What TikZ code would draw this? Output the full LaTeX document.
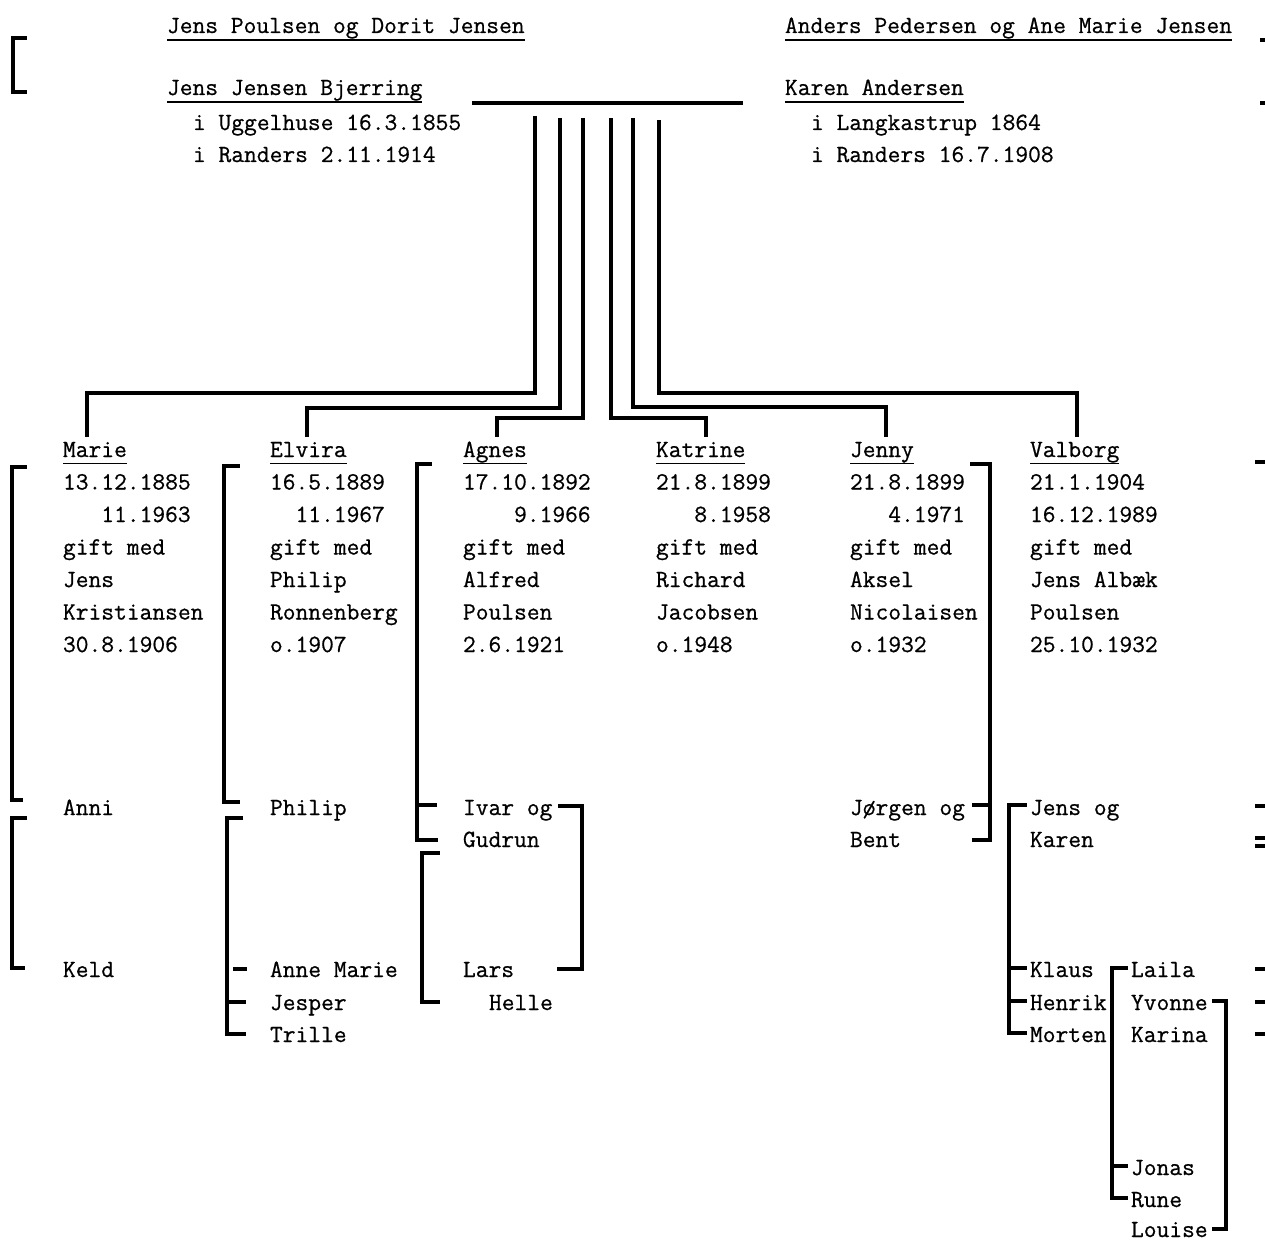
\documentclass[tikz,border=0pt]{standalone}
\usepackage{fontspec}
\newfontfamily\twfont{Latin Modern Mono}[FakeBold=0.7]
\begin{document}
\begin{tikzpicture}[x=1pt,y=-1pt,
  txt/.style={anchor=base west,inner sep=0pt,outer sep=0pt,font=\twfont\fontsize{24.8}{30}\selectfont},
  br/.style={line width=3.2pt,line join=miter,line cap=butt},
  ul/.style={line width=1.6pt}]
\useasboundingbox (0,0) rectangle (1265,1241);

% ---------- top: parents ----------
\node[txt] (pp) at (167,33) {Jens Poulsen og Dorit Jensen};
\node[txt] (jjb) at (167,95) {Jens Jensen Bjerring};
\node[txt] (jjb1) at (193,130) {i Uggelhuse 16.3.1855};
\node[txt] (jjb2) at (193,162) {i Randers 2.11.1914};
\node[txt] (ap) at (785,33) {Anders Pedersen og Ane Marie Jensen};
\node[txt] (ka) at (785,95) {Karen Andersen};
\node[txt] (ka1) at (811,130) {i Langkastrup 1864};
\node[txt] (ka2) at (811,162) {i Randers 16.7.1908};
\foreach \n in {pp,jjb,ap,ka}
  \draw[ul] ([yshift=-7pt]\n.base west) -- ([yshift=-7pt]\n.base east);

\draw[br] (27,38) -- (13,38) -- (13,92) -- (27,92);
\draw[br] (1260,40) -- (1265,40);
\draw[br] (1260,103) -- (1265,103);

% marriage line
\coordinate (cl) at (472,103);
\coordinate (cr) at (743,103);
\draw[line width=3.2pt] (cl) -- (cr);

% ---------- children ----------
\node[txt] (marie) at (63,457) {Marie};
\node[txt] (elvira) at (270,457) {Elvira};
\node[txt] (agnes) at (463,457) {Agnes};
\node[txt] (katrine) at (656,457) {Katrine};
\node[txt] (jenny) at (850,457) {Jenny};
\node[txt] (valborg) at (1030,457) {Valborg};
\foreach \n in {marie,elvira,agnes,katrine,jenny,valborg}
  \draw[ul] ([yshift=-6.5pt]\n.base west) -- ([yshift=-6.5pt]\n.base east);

\foreach \t [count=\k] in {{13.12.1885},{\phantom{13.}11.1963},{gift med},{Jens},{Kristiansen},{30.8.1906}}
  \node[txt] (marie\k) at (63,{457+32.5*\k}) {\t};
\foreach \t [count=\k] in {{16.5.1889},{\phantom{16}11.1967},{gift med},{Philip},{Ronnenberg},{o.1907}}
  \node[txt] (elvira\k) at (270,{457+32.5*\k}) {\t};
\foreach \t [count=\k] in {{17.10.1892},{\phantom{17.1}9.1966},{gift med},{Alfred},{Poulsen},{2.6.1921}}
  \node[txt] (agnes\k) at (463,{457+32.5*\k}) {\t};
\foreach \t [count=\k] in {{21.8.1899},{\phantom{21.}8.1958},{gift med},{Richard},{Jacobsen},{o.1948}}
  \node[txt] (katrine\k) at (656,{457+32.5*\k}) {\t};
\foreach \t [count=\k] in {{21.8.1899},{\phantom{21.}4.1971},{gift med},{Aksel},{Nicolaisen},{o.1932}}
  \node[txt] (jenny\k) at (850,{457+32.5*\k}) {\t};
\foreach \t [count=\k] in {{21.1.1904},{16.12.1989},{gift med},{Jens Albæk},{Poulsen},{25.10.1932}}
  \node[txt] (valborg\k) at (1030,{457+32.5*\k}) {\t};

% connectors from the couple to the children
\draw[br] (535,116) |- (87,393) -- (87,437);
\draw[br] (560,118) |- (307,408) -- (307,437);
\draw[br] (583,118) |- (497,418) -- (497,437);
\draw[br] (611,118) |- (706,418) -- (706,437);
\draw[br] (633,118) |- (886,407) -- (886,437);
\draw[br] (659,120) |- (1077,393) -- (1077,437);

% ---------- grandchildren ----------
\node[txt] (anni) at (63,815) {Anni};
\node[txt] (keld) at (63,977) {Keld};
\node[txt] (philip) at (270,815) {Philip};
\node[txt] (annemarie) at (270,977) {Anne Marie};
\node[txt] (jesper) at (270,1010) {Jesper};
\node[txt] (trille) at (270,1042) {Trille};
\node[txt] (ivar) at (463,815) {Ivar og};
\node[txt] (gudrun) at (463,847) {Gudrun};
\node[txt] (lars) at (463,977) {Lars};
\node[txt] (helle) at (489,1010) {Helle};
\node[txt] (jorgen) at (850,815) {Jørgen og};
\node[txt] (bent) at (850,847) {Bent};
\node[txt] (jensog) at (1030,815) {Jens og};
\node[txt] (karen) at (1030,847) {Karen};
\node[txt] (klaus) at (1030,977) {Klaus};
\node[txt] (henrik) at (1030,1010) {Henrik};
\node[txt] (morten) at (1030,1042) {Morten};
\node[txt] (laila) at (1131,977) {Laila};
\node[txt] (yvonne) at (1131,1010) {Yvonne};
\node[txt] (karina) at (1131,1042) {Karina};
\node[txt] (jonas) at (1131,1175) {Jonas};
\node[txt] (rune) at (1131,1207) {Rune};
\node[txt] (louise) at (1131,1237) {Louise};

% Marie brackets
\draw[br] (27,467) -- (12,467) -- (12,800) -- (23,800);
\draw[br] (27,818) -- (12,818) -- (12,968) -- (25,968);
% Elvira brackets
\draw[br] (240,466) -- (224,466) -- (224,802) -- (240,802);
\draw[br] (243,818) -- (227,818) -- (227,1034) -- (246,1034);
\draw[br] (227,1002) -- (246,1002);
\draw[br] (233,969) -- (247,969);
% Agnes brackets
\draw[br] (432,464) -- (417,464) -- (417,840) -- (438,840);
\draw[br] (417,805) -- (437,805);
\draw[br] (440,853) -- (422,853) -- (422,1002) -- (440,1002);
\draw[br] (558,806) -- (582,806) -- (582,969) -- (557,969);
% Jenny bracket
\draw[br] (970,464) -- (990,464) -- (990,840) -- (972,840);
\draw[br] (972,805) -- (990,805);
% Valborg brackets
\draw[br] (1027,805) -- (1009,805) -- (1009,1033) -- (1027,1033);
\draw[br] (1009,968) -- (1027,968);
\draw[br] (1009,1001) -- (1027,1001);
\draw[br] (1128,968) -- (1112,968) -- (1112,1198) -- (1128,1198);
\draw[br] (1112,1166) -- (1128,1166);
\draw[br] (1212,1001) -- (1226,1001) -- (1226,1229) -- (1212,1229);

% right edge fragments
\foreach \yy in {462,806,838,846,969,1002,1034}
  \draw[br] (1255,\yy) -- (1265,\yy);
\end{tikzpicture}
\end{document}
